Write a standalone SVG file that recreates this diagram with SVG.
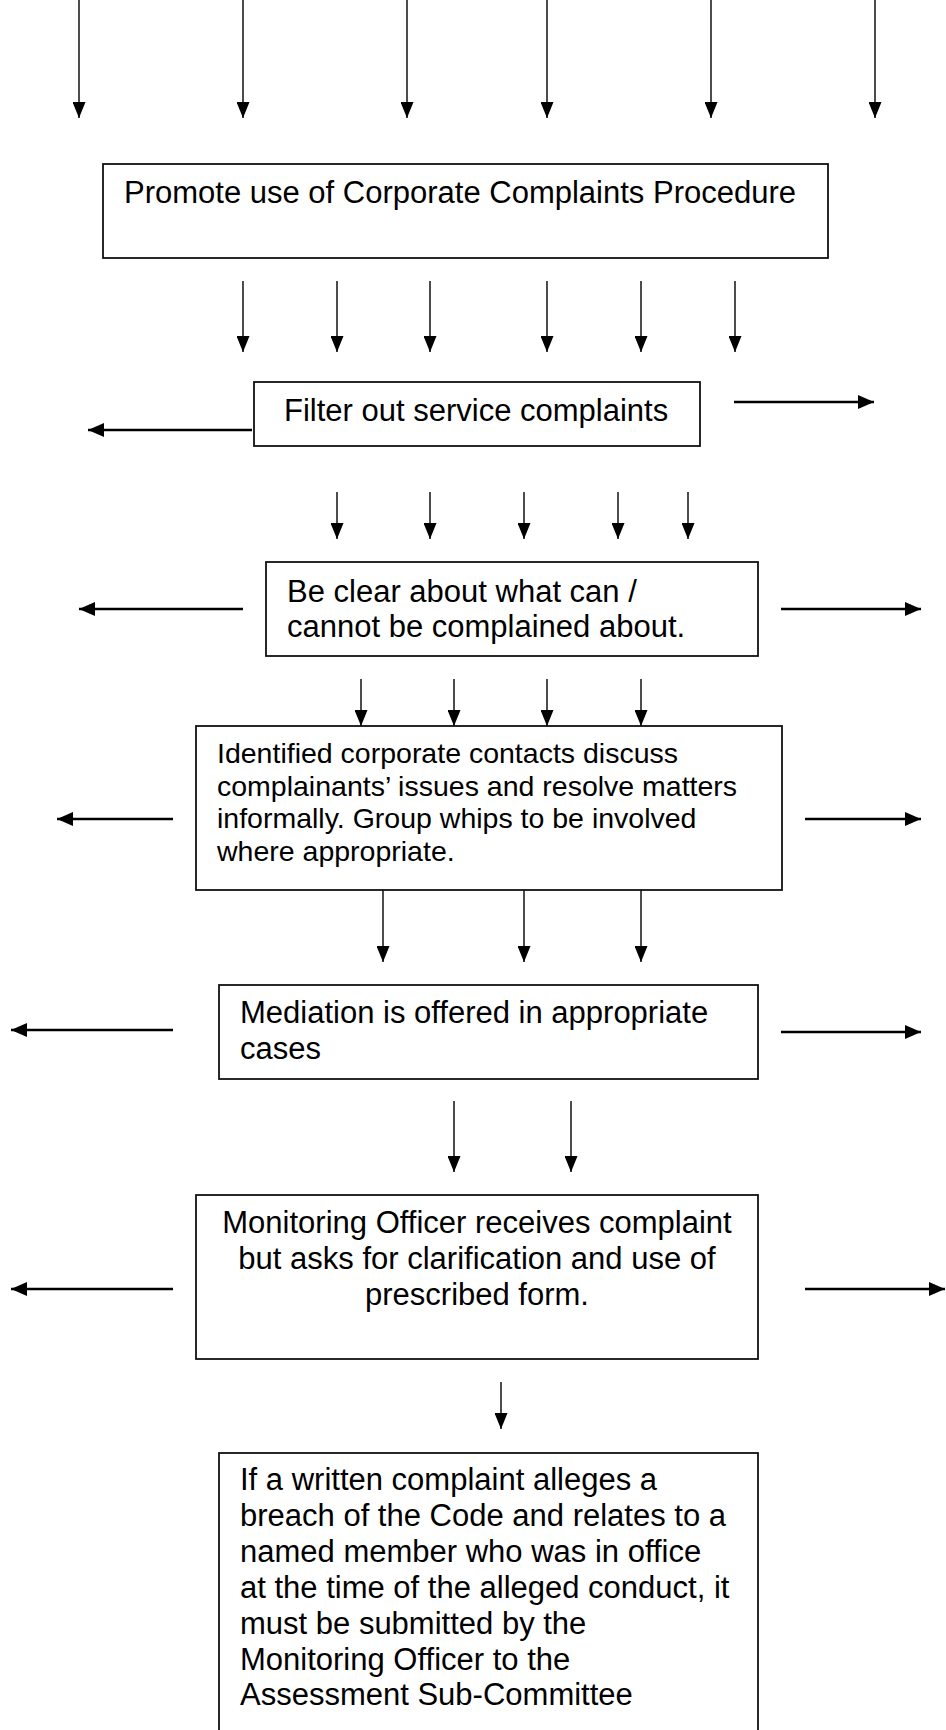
<svg xmlns="http://www.w3.org/2000/svg" width="946" height="1730" viewBox="0 0 946 1730">
<defs>
<marker id="ah" markerUnits="userSpaceOnUse" markerWidth="16" markerHeight="13" refX="16" refY="6.5" orient="auto">
<path d="M0,0 L16,6.5 L0,13 z" fill="#000"/>
</marker>
<marker id="ahh" markerUnits="userSpaceOnUse" markerWidth="16" markerHeight="14" refX="16" refY="7" orient="auto">
<path d="M0,0 L16,7 L0,14 z" fill="#000"/>
</marker>
<style>
.box{fill:#fff;stroke:#111;stroke-width:1.8}
.t{font-family:"Liberation Sans",Arial,sans-serif;font-size:31px;fill:#000}
.ts{font-family:"Liberation Sans",Arial,sans-serif;font-size:28.5px;fill:#000}
.v{stroke:#000;stroke-width:1.4;fill:none;marker-end:url(#ah)}
.h{stroke:#000;stroke-width:2.4;fill:none;marker-end:url(#ahh)}
</style>
</defs>
<rect width="946" height="1730" fill="#fff"/>
<g id="connectors">
<line class="v" x1="79" y1="0" x2="79" y2="118"/>
<line class="v" x1="243" y1="0" x2="243" y2="118"/>
<line class="v" x1="407" y1="0" x2="407" y2="118"/>
<line class="v" x1="547" y1="0" x2="547" y2="118"/>
<line class="v" x1="711" y1="0" x2="711" y2="118"/>
<line class="v" x1="875" y1="0" x2="875" y2="118"/>
<line class="v" x1="243" y1="281" x2="243" y2="352"/>
<line class="v" x1="337" y1="281" x2="337" y2="352"/>
<line class="v" x1="430" y1="281" x2="430" y2="352"/>
<line class="v" x1="547" y1="281" x2="547" y2="352"/>
<line class="v" x1="641" y1="281" x2="641" y2="352"/>
<line class="v" x1="735" y1="281" x2="735" y2="352"/>
<line class="h" x1="734" y1="402" x2="874" y2="402"/>
<line class="h" x1="252" y1="430" x2="88" y2="430"/>
<line class="v" x1="337" y1="492" x2="337" y2="539"/>
<line class="v" x1="430" y1="492" x2="430" y2="539"/>
<line class="v" x1="524" y1="492" x2="524" y2="539"/>
<line class="v" x1="618" y1="492" x2="618" y2="539"/>
<line class="v" x1="688" y1="492" x2="688" y2="539"/>
<line class="h" x1="243" y1="609" x2="79" y2="609"/>
<line class="h" x1="781" y1="609" x2="921" y2="609"/>
<line class="v" x1="361" y1="679" x2="361" y2="726"/>
<line class="v" x1="454" y1="679" x2="454" y2="726"/>
<line class="v" x1="547" y1="679" x2="547" y2="726"/>
<line class="v" x1="641" y1="679" x2="641" y2="726"/>
<line class="h" x1="173" y1="819" x2="57" y2="819"/>
<line class="h" x1="805" y1="819" x2="921" y2="819"/>
<line class="v" x1="383" y1="890" x2="383" y2="962"/>
<line class="v" x1="524" y1="890" x2="524" y2="962"/>
<line class="v" x1="641" y1="890" x2="641" y2="962"/>
<line class="h" x1="173" y1="1030" x2="11" y2="1030"/>
<line class="h" x1="781" y1="1032" x2="921" y2="1032"/>
<line class="v" x1="454" y1="1101" x2="454" y2="1172"/>
<line class="v" x1="571" y1="1101" x2="571" y2="1172"/>
<line class="h" x1="173" y1="1289" x2="11" y2="1289"/>
<line class="h" x1="805" y1="1289" x2="945" y2="1289"/>
<line class="v" x1="501" y1="1382" x2="501" y2="1429"/>
</g>
<g id="n1">
<rect class="box" x="103" y="164" width="725" height="94"/>
<text class="t" x="124" y="203">Promote use of Corporate Complaints Procedure</text>
</g>
<g id="n2">
<rect class="box" x="254" y="382" width="446" height="64"/>
<text class="t" x="284" y="421">Filter out service complaints</text>
</g>
<g id="n3">
<rect class="box" x="266" y="562" width="492" height="94"/>
<text class="t" x="287" y="602">Be clear about what can /</text>
<text class="t" x="287" y="637">cannot be complained about.</text>
</g>
<g id="n4">
<rect class="box" x="196" y="726" width="586" height="164"/>
<text class="ts" x="217" y="763">Identified corporate contacts discuss</text>
<text class="ts" x="217" y="796">complainants’ issues and resolve matters</text>
<text class="ts" x="217" y="828">informally. Group whips to be involved</text>
<text class="ts" x="217" y="861">where appropriate.</text>
</g>
<g id="n5">
<rect class="box" x="219" y="985" width="539" height="94"/>
<text class="t" x="240" y="1023">Mediation is offered in appropriate</text>
<text class="t" x="240" y="1059">cases</text>
</g>
<g id="n6">
<rect class="box" x="196" y="1195" width="562" height="164"/>
<text class="t" x="477" y="1233" text-anchor="middle">Monitoring Officer receives complaint</text>
<text class="t" x="477" y="1269" text-anchor="middle">but asks for clarification and use of</text>
<text class="t" x="477" y="1305" text-anchor="middle">prescribed form.</text>
</g>
<g id="n7">
<rect class="box" x="219" y="1453" width="539" height="300"/>
<text class="t" x="240" y="1490">If a written complaint alleges a</text>
<text class="t" x="240" y="1526">breach of the Code and relates to a</text>
<text class="t" x="240" y="1562">named member who was in office</text>
<text class="t" x="240" y="1598">at the time of the alleged conduct, it</text>
<text class="t" x="240" y="1634">must be submitted by the</text>
<text class="t" x="240" y="1670">Monitoring Officer to the</text>
<text class="t" x="240" y="1705">Assessment Sub-Committee</text>
</g>
</svg>
